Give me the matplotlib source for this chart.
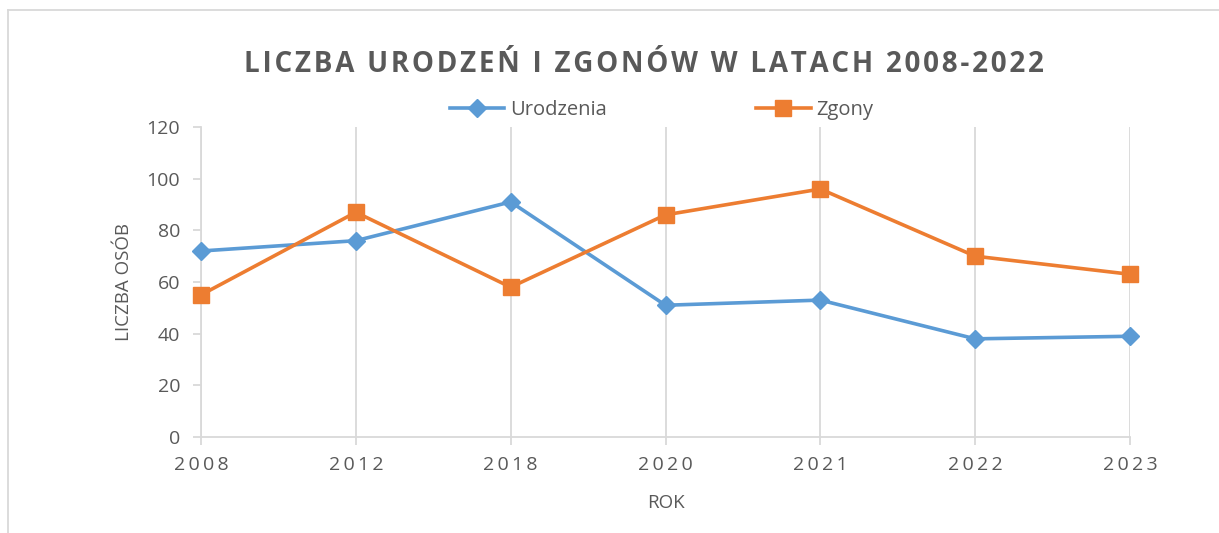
import matplotlib
matplotlib.use('Agg')
import matplotlib.pyplot as plt
from matplotlib.lines import Line2D

# data
years = ["2008", "2012", "2018", "2020", "2021", "2022", "2023"]
births = [72, 76, 91, 51, 53, 38, 39]
deaths = [55, 87, 58, 86, 96, 70, 63]
y_ticks = [0, 20, 40, 60, 80, 100, 120]

BLUE = "#5B9BD5"
ORANGE = "#ED7D31"
TEXT = "#595959"
GRID = "#D9D9D9"
FONT = ["Open Sans", "DejaVu Sans"]


def spaced(s, sep="\u2009"):
    return sep.join(s)


plt.rcParams['font.family'] = FONT

fig = plt.figure(figsize=(12.19, 5.33), dpi=100)
ax = fig.add_axes([0.1649, 0.1801, 0.927 - 0.1649, 0.7617 - 0.1801])

x = list(range(len(years)))
ax.plot(x, births, color=BLUE, lw=2.6, marker="D", ms=9, label="Urodzenia",
        zorder=3, clip_on=False)
ax.plot(x, deaths, color=ORANGE, lw=2.6, marker="s", ms=12, label="Zgony",
        zorder=3, clip_on=False)

ax.set_xlim(0, len(years) - 1)
ax.set_ylim(0, 120)
ax.set_yticks(y_ticks)
ax.set_xticks(x)
ax.set_xticklabels([spaced(y) for y in years])
ax.grid(axis="x", color=GRID, lw=1.3)
ax.set_axisbelow(True)

for side in ["top", "right"]:
    ax.spines[side].set_visible(False)
for side in ["left", "bottom"]:
    ax.spines[side].set_color(GRID)
    ax.spines[side].set_linewidth(1.3)
ax.tick_params(axis="both", colors=GRID, width=1.3, length=6, labelcolor=TEXT, labelsize=14)
ax.tick_params(axis="x", pad=8)
ax.tick_params(axis="y", pad=9)

ax.set_ylabel("LICZBA OSÓB", color=TEXT, fontsize=13.5, labelpad=10)
ax.set_xlabel("ROK", color=TEXT, fontsize=13.5, labelpad=14)

fig.text(0.528, 0.879, spaced("LICZBA URODZEŃ I ZGONÓW W LATACH 2008-2022", "\u200a"),
         ha="center", va="center", fontsize=20, fontweight="bold", color=TEXT)

fig.legend(loc="center", bbox_to_anchor=(0.543, 0.794), ncol=2, frameon=False,
           fontsize=14.5, labelcolor=TEXT, columnspacing=7.4, handlelength=2.7,
           handletextpad=0.3, borderaxespad=0)

# chart frame (top and left edges visible in the crop)
fig.add_artist(Line2D([8 / 1219, 1.0], [1 - 10 / 533, 1 - 10 / 533], color=GRID, lw=1.3))
fig.add_artist(Line2D([8 / 1219, 8 / 1219], [0.0, 1 - 10 / 533], color=GRID, lw=1.3))

fig.savefig("out.png", dpi=100, facecolor="white")
